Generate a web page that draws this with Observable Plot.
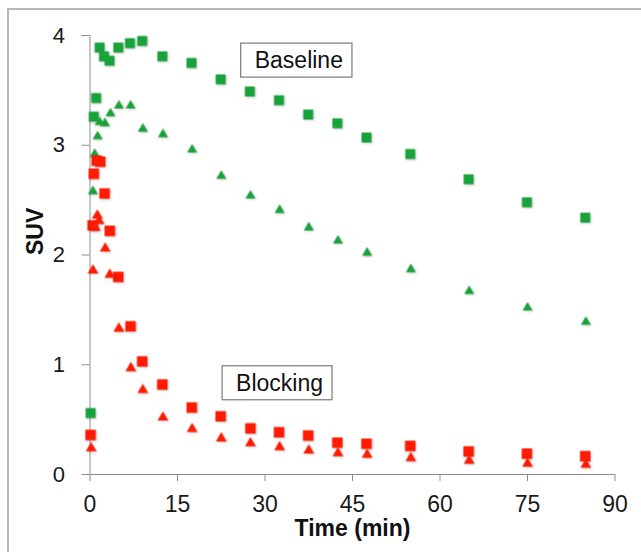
<!DOCTYPE html>
<html>
<head>
<meta charset="utf-8">
<script src="https://cdn.jsdelivr.net/npm/d3@7"></script>
<script src="https://cdn.jsdelivr.net/npm/@observablehq/plot@0.6"></script>
<style>
  html, body { margin: 0; padding: 0; background: #fff; overflow: hidden; width: 641px; height: 552px; }
  #frame { position: absolute; left: 7px; top: 8px; width: 700px; height: 700px; border: 2px solid #b8b8b8; box-sizing: border-box; }
  #chart { position: absolute; left: 0; top: 0; }
  g[aria-label="dot"] { filter: drop-shadow(1px 1px 1px rgba(0,0,0,0.22)); }
</style>
</head>
<body>
<div id="frame"></div>
<div id="chart"></div>
<script>
// ---- Data (time in min, SUV) ----
const baseSqT  = [0.1, 0.65, 1.05, 1.65, 2.4, 3.35, 4.85, 6.85, 8.95, 12.4, 17.4, 22.4, 27.4, 32.4, 37.4, 42.4, 47.4, 54.9, 64.9, 74.9, 84.9];
const baseSqV  = [0.56, 3.26, 3.43, 3.89, 3.81, 3.77, 3.89, 3.93, 3.95, 3.81, 3.75, 3.60, 3.49, 3.41, 3.28, 3.20, 3.07, 2.92, 2.69, 2.48, 2.34];

const baseTriT = [0.5, 0.8, 1.3, 1.65, 2.55, 3.5, 4.95, 6.95, 9.05, 12.5, 17.5, 22.5, 27.5, 32.5, 37.5, 42.5, 47.5, 55, 65, 75, 85];
const baseTriV = [2.58, 2.92, 3.08, 3.21, 3.20, 3.29, 3.36, 3.36, 3.15, 3.10, 2.96, 2.72, 2.54, 2.41, 2.25, 2.13, 2.02, 1.87, 1.67, 1.52, 1.39];

const blockSqT = [0.1, 0.45, 0.65, 1.15, 1.75, 2.5, 3.4, 4.85, 6.95, 8.95, 12.4, 17.45, 22.4, 27.5, 32.4, 37.4, 42.4, 47.4, 54.9, 64.9, 74.9, 84.9];
const blockSqV = [0.36, 2.27, 2.74, 2.86, 2.85, 2.56, 2.22, 1.80, 1.35, 1.03, 0.82, 0.61, 0.53, 0.42, 0.385, 0.355, 0.29, 0.28, 0.26, 0.21, 0.19, 0.167];

const blockTriT = [0.2, 0.5, 0.9, 1.25, 1.55, 2.6, 3.4, 4.95, 7.0, 9.05, 12.5, 17.5, 22.5, 27.5, 32.5, 37.5, 42.5, 47.5, 55, 65, 75, 85];
const blockTriV = [0.24, 1.86, 2.25, 2.36, 2.31, 2.06, 1.82, 1.33, 0.97, 0.77, 0.52, 0.415, 0.33, 0.285, 0.25, 0.22, 0.195, 0.18, 0.15, 0.127, 0.10, 0.09];

const xTicks = [0, 15, 30, 45, 60, 75, 90];
const yTicks = [0, 1, 2, 3, 4];

const annLabels = ["Baseline", "Blocking"];
const annT = [35.8, 32.5];
const annV = [3.77, 0.83];

// ---- Build tables ----
const rows = (ts, vs) => ts.map((t, i) => ({t, v: vs[i]}));
const baseSq = rows(baseSqT, baseSqV);
const baseTri = rows(baseTriT, baseTriV);
const blockSq = rows(blockSqT, blockSqV);
const blockTri = rows(blockTriT, blockTriV);
const ann = annLabels.map((label, i) => ({label, t: annT[i], v: annV[i]}));

const GREEN = "#18a23a";
const RED = "#ff1a00";
const AXIS = "#8c8c8c";
const FONT = "'Liberation Sans', Arial, Helvetica, sans-serif";

const chart = Plot.plot({
  width: 641,
  height: 552,
  marginLeft: 89.5,
  marginRight: 26.5,
  marginTop: 35,
  marginBottom: 78,
  style: {fontFamily: FONT, background: "transparent", color: "#1a1a1a"},
  x: {domain: [0, 90]},
  y: {domain: [0, 4]},
  marks: [
    Plot.axisY(yTicks, {tickSize: 8, tickPadding: 17, fontSize: 22, tickFormat: d3.format("d"), stroke: AXIS, fill: "#1a1a1a", label: null}),
    Plot.axisX(xTicks, {tickSize: 7, tickPadding: 14, fontSize: 23, tickFormat: d3.format("d"), stroke: AXIS, fill: "#1a1a1a", label: null}),
    Plot.ruleX([0], {stroke: AXIS}),
    Plot.ruleY([0], {stroke: AXIS}),
    Plot.dot(baseSq, {x: "t", y: "v", symbol: "square", r: 5.6, fill: GREEN}),
    Plot.dot(baseTri, {x: "t", y: "v", symbol: "triangle", r: 3.7, fill: GREEN}),
    Plot.dot(blockSq, {x: "t", y: "v", symbol: "square", r: 5.9, fill: RED}),
    Plot.dot(blockTri, {x: "t", y: "v", symbol: "triangle", r: 4.0, fill: RED}),
    Plot.text(ann, {x: "t", y: "v", text: "label", fontSize: 23, fill: "#111", lineAnchor: "middle", className: "ann"}),
    Plot.text(["SUV"], {frameAnchor: "left", dx: -54, rotate: -90, fontSize: 23, fontWeight: "bold", fill: "#111"}),
    Plot.text(["Time (min)"], {frameAnchor: "bottom", dy: 54, lineAnchor: "middle", fontSize: 23, fontWeight: "bold", fill: "#111"})
  ]
});

document.getElementById("chart").appendChild(chart);

// Boxes around annotation labels
chart.querySelectorAll("g.ann text").forEach(t => {
  const b = t.getBBox();
  const rect = document.createElementNS("http://www.w3.org/2000/svg", "rect");
  rect.setAttribute("x", b.x - 14);
  rect.setAttribute("y", b.y - 4);
  rect.setAttribute("width", b.width + 23);
  rect.setAttribute("height", b.height + 8);
  rect.setAttribute("fill", "#fff");
  rect.setAttribute("stroke", "#7a7a7a");
  rect.setAttribute("stroke-width", "1.2");
  const tr = t.getAttribute("transform");
  if (tr) rect.setAttribute("transform", tr);
  t.parentNode.insertBefore(rect, t);
});
</script>
</body>
</html>
